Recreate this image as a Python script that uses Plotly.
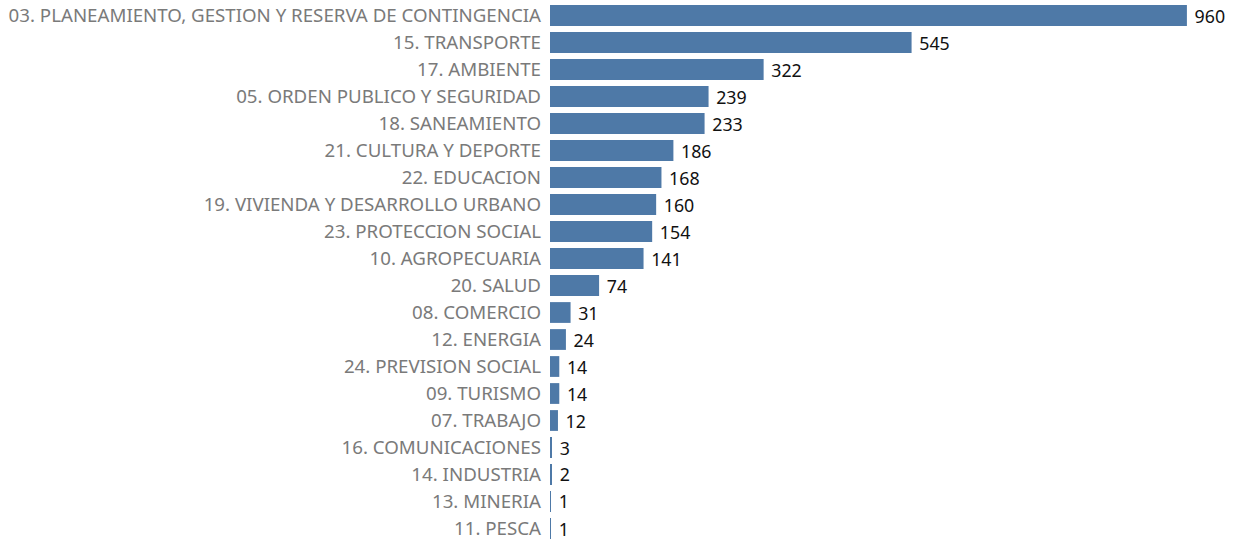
import plotly.graph_objects as go

categories = [
    "03. PLANEAMIENTO, GESTION Y RESERVA DE CONTINGENCIA",
    "15. TRANSPORTE",
    "17. AMBIENTE",
    "05. ORDEN PUBLICO Y SEGURIDAD",
    "18. SANEAMIENTO",
    "21. CULTURA Y DEPORTE",
    "22. EDUCACION",
    "19. VIVIENDA Y DESARROLLO URBANO",
    "23. PROTECCION SOCIAL",
    "10. AGROPECUARIA",
    "20. SALUD",
    "08. COMERCIO",
    "12. ENERGIA",
    "24. PREVISION SOCIAL",
    "09. TURISMO",
    "07. TRABAJO",
    "16. COMUNICACIONES",
    "14. INDUSTRIA",
    "13. MINERIA",
    "11. PESCA",
]
values = [960, 545, 322, 239, 233, 186, 168, 160, 154, 141, 74, 31, 24, 14, 14, 12, 3, 2, 1, 1]

fig = go.Figure(go.Bar(
    x=values,
    y=categories,
    orientation="h",
    marker=dict(color="#4e79a7", line=dict(width=0)),
    width=0.77,
    texttemplate=" %{x}",
    textposition="outside",
    constraintext="none",
    textfont=dict(color="#111111", size=17.8, family="Noto Sans"),
    cliponaxis=False,
    hoverinfo="x+y",
))

fig.update_layout(
    width=1236, height=542,
    margin=dict(l=550, r=0, t=2, b=0, pad=0),
    plot_bgcolor="white", paper_bgcolor="white",
    showlegend=False,
    xaxis=dict(range=[0, 1034], visible=False, showgrid=False, zeroline=False),
    yaxis=dict(
        autorange="reversed",
        showgrid=False, zeroline=False, showline=False,
        ticks="", ticklabelstandoff=8, automargin=False,
        tickfont=dict(color="#7a7a7a", size=18.7, family="Noto Sans"),
    ),
    font=dict(family="Noto Sans"),
)

fig.write_html("out.html", config={"displayModeBar": False},
               post_script="document.body.style.margin='0';")
